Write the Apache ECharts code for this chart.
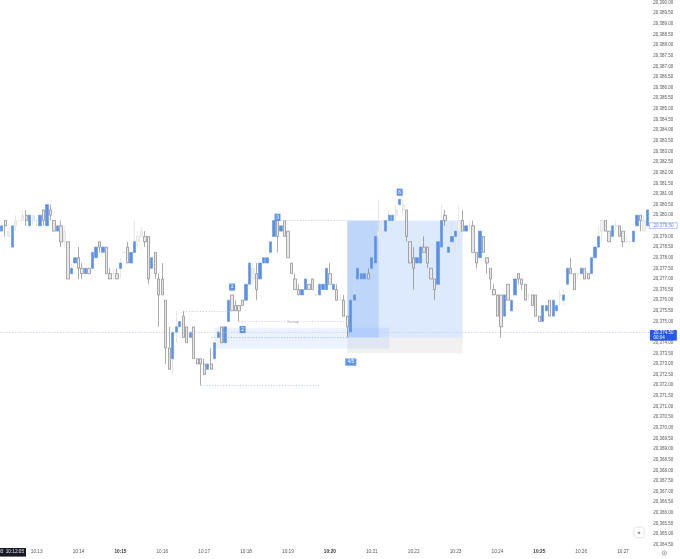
<!DOCTYPE html>
<html>
<head>
<meta charset="utf-8">
<style>html,body{margin:0;padding:0;background:#fff}#c{width:680px;height:559px}</style>
<script src="https://cdn.jsdelivr.net/npm/echarts@6/dist/echarts.min.js"></script>
</head>
<body>
<div id="c"></div>
<script>
const base = 20000;
const opens = [
379.25,379.75,379.25,378.5,379.75,379.75,379.75,380,379.5,380,
379.75,379.5,380.25,379.5,380.25,379.75,379.25,379.5,379.25,378.75,
377.25,377.75,378,377.5,377.25,377.5,377.5,378,378.75,378.25,
378.5,377.25,377.25,377.25,377.5,378.25,378.5,377.75,378.25,378.75,
379,379,379,377.5,378.25,377,377,376,373.75,373.25,
374.5,374.75,375.25,374.75,374.25,374.75,373.25,373.25,373,372.75,
373,373.25,374.25,374.75,374,375,376.25,375.75,375.75,376,
376,376.75,377.5,377.25,377,377.75,377.75,378.25,379,379.75,
379.25,379.75,379.25,377.75,377,376.5,376.25,376.5,376.75,377,
376.25,376.25,376.5,376.5,377.25,376.5,376.5,376,376,375.25,
374.5,376,377,377,377,377.25,377.5,377.75,379,379.25,
379.25,379.75,379.75,380,380.5,380.5,380.25,378.75,378,377.75,
377.75,378.5,378.5,377.5,377,376.75,378.5,380,378.25,378.75,
379,379.75,379.75,379.25,379.5,379.5,378.25,378,379,378,
377.5,376.5,376.25,376.25,375.25,376.75,375.5,376.25,377.25,377,
376.75,376.25,376.25,376.25,375.25,375,375.5,376,375.25,375.5,
376.25,376,376.75,377.5,377.25,377.25,377.25,377.5,377.25,377.25,
378,378.5,379.75,379.75,379.25,379,379.5,379.5,379.25,378.75,
378.75,378.75,379.5,380,379.75,379.5];
const closes = [
379.5,379.5,379,379.5,379.5,379.75,380,379.75,380,379.75,
379.75,380,379.75,380.5,380,379.25,379.5,378.75,378.75,377,
377.5,378,377.5,377.25,377.5,377.25,378.25,378.5,378.5,378.5,
377.25,377,377.25,377,377.75,378.25,377.75,378.25,378.75,379,
379.25,378.75,377,378,377.25,376.25,376.25,373.75,372.75,374.5,
374.75,375,374.25,374,374.5,373.25,373,373,372.5,373,
372.75,374,374.5,374,374.75,376,375.5,375.5,375.5,375.75,
376.75,377.75,377,376.5,377.75,378,378,378.75,379.75,379,
379.5,379,378,377.25,376.5,376.25,376.5,377,376.5,376.5,
376.25,376.75,376.75,377.5,376.75,376.75,376,376,375.25,374.75,
376,376.25,377.5,377.25,377.25,377,378,379,379.25,379.75,
379.75,380,380,380.25,380.75,380.25,379,377.75,377.5,378,
378.5,378.25,377.75,377,376.5,378.75,379.75,379.75,378.5,379,
379.25,379.25,379.25,379.5,379.5,378.25,377.75,379.25,378.25,377.75,
377,376.25,375.25,374.75,376.25,376,376,377,377,376.75,
376,376.25,375.75,375.25,375,375.75,375.75,375.25,376,375.75,
376.25,376.25,377.5,377.25,376.5,377.25,377.5,377,377,378,
378.5,379,379.25,379.25,378.75,379.5,379.5,379,378.75,378.75,
378.75,379.25,380,379.75,379.25,380.25];
const lows = [
379.25,379,379,378.5,379.25,379.75,379.75,379.5,379.5,379.5,
379.5,379.5,379.5,379.5,379.75,379.25,379.25,378.5,378.5,377,
377.25,377.75,377,377,377.25,377.25,377.5,378,378.25,378.25,
377.25,377,377,377,377,378.25,377.75,377.75,378.25,378.5,
379,378.5,376.75,377.5,377,374.75,376.25,373,372.75,372.5,
374,374.75,374.25,374,374.25,373.25,373,372,372.5,372.75,
372.75,373.25,374.25,374,374,375,375.5,375.5,375,375.75,
376,376.75,376.75,376,377,377.75,377.75,378.25,379,378.25,
379.25,379,378,377.25,376.5,376.25,376.25,376.5,376.5,376.5,
376.25,376.25,376.5,376.5,376.75,376.5,376,376,375.25,374.25,
374.5,376,377,377,377,377,377.5,377.75,378.75,379,
379.25,379.75,379.75,379.75,380.5,380,378.75,377.75,376.5,377.75,
377.75,378.25,377.5,377,376,376.75,378.5,379.5,378.25,378.75,
378.25,378.5,379.25,379.25,379.25,378.25,377.5,378,378.25,377.25,
376.5,376.25,375.25,374.25,375.25,376,375.5,376.25,376.75,376.5,
376,376,375.75,375.25,375,375,375.5,375.25,375.25,375.5,
375.75,375.75,376.75,377.25,376.5,377,377.25,377,377,377.25,
378,378.5,378.75,379.25,378.75,379,379.25,379,378.5,378.75,
378.75,378.75,379.5,379.25,379.25,379.5];
const highs = [
379.5,379.75,379.25,379.5,380,379.75,380.25,380.25,380,380,
379.75,380,380.25,380.5,380.5,379.75,379.5,379.75,379.5,378.75,
377.75,378,378.5,377.75,377.5,377.5,378.25,378.5,378.75,378.5,
378.5,377.5,377.5,377.5,378,378.25,378.75,378.25,379.75,379.25,
379.5,379.25,379,378,378.25,377.25,377.75,376,374.75,374.5,
375.5,375,375.5,374.75,374.5,374.75,373.25,373.25,373.25,373,
373.75,374,374.5,374.75,374.75,376,376.25,376,375.75,376,
376.75,377.75,377.75,377.75,377.75,378,378,378.75,379.75,379.75,
379.5,379.75,379.25,377.75,377.25,376.75,376.5,377,376.75,377,
376.25,376.75,376.75,377.5,377.75,376.75,376.75,376.25,376.25,375.25,
376,376.75,377.5,377.25,377.25,377.5,378,379,380.75,379.75,
379.75,380.25,380,380.5,380.75,380.75,380.25,378.75,378.5,378,
378.5,379,378.5,377.5,377,378.75,380.5,380.25,378.5,379.75,
379.25,380.5,380.25,379.5,379.75,379.75,378.25,379.25,379,378,
377.5,376.75,376.25,376.25,376.25,376.75,376,377,377.25,377,
376.75,376.25,376.25,376.25,375.25,375.75,375.75,376,376,375.75,
376.5,376.5,377.5,378,377.25,377.25,377.5,377.5,377.25,378,
378.5,379.5,379.75,379.75,379.25,379.5,379.75,379.5,379.25,379,
378.75,379.25,380,380,380,380.25];
// low-volume candles drawn faintly
const faint = [2,4,5,6,9,10,18,32,35,39,40,72,90,97,108,109,113,115,131,134,151,160,165,172,176,179,180,184];

const firstSecond = 10*3600 + 12*60 + 10;   // first bar 10:12:10, bars of 5 s
const barSeconds = 5;
const hiddenTicks = [20374.5, 20379.5];
const lastPrice = 20374.5, lastCountdown = '00:04', markPrice = 20379.5;

// annotation values: [firstBar, lastBar, price(s)]
const bigBox = [99,132,20379.75,20374.25];
const firstLeg = [99,108,20379.75,20374.25];
const greyBox = [99,132,20374.25,20373.5];
const zone = [61,111,20374.7,20373.72];
const dotted = [
  [52,65,20375.5,'#bcc4d6'],
  [79,99,20379.75,'#bcc4d6'],
  [57,91,20372,'#a3bbef'],
  [60,99,20374.25,'#8fb0f0'],
];
const sweep = [68,99,20375,'Sweep'];
const badges = [['1',66,20376.62,6],['2',69,20374.62,6],['3',79,20379.9,6],['4/5',100,20373.09,11],['6',114,20381.08,6]];

const pad = n => String(n).padStart(2,'0');
const cats = opens.map((_,i)=>{
  const s = firstSecond + i*barSeconds;
  return pad(Math.floor(s/3600))+':'+pad(Math.floor(s/60)%60)+':'+pad(s%60);
});
const isFaint = new Set(faint);
const abs = v => +(base + v).toFixed(2);
const blank = ['-','-','-','-'];
const mainData = [], lightData = [];
opens.forEach((o,i)=>{
  const c = closes[i], l = lows[i], h = highs[i];
  if (isFaint.has(i)) { mainData.push(blank); lightData.push([abs(o),abs(c),abs(l),abs(h)]); return; }
  if (c >= o) { // up bar: the body is blue, its wick is pale
    mainData.push([abs(o),abs(c),abs(o),abs(c)]);
    if (l < o || h > c) lightData.push([abs(o),abs(o),abs(l),abs(h)]); else lightData.push(blank);
  } else {
    mainData.push([abs(o),abs(c),abs(l),abs(h)]);
    lightData.push(blank);
  }
});
const fmt = v => v.toLocaleString('en-US',{minimumFractionDigits:2,maximumFractionDigits:2});
const rectArea = (b,color)=>[{coord:[b[0],b[2]],itemStyle:{color}},{coord:[b[1],b[3]]}];
const FONT = '"Liberation Sans", Arial, sans-serif';

const chart = echarts.init(document.getElementById('c'), null, {renderer:'canvas'});
chart.setOption({
  animation:false,
  backgroundColor:'#fff',
  grid:{left:-0.75, top:2.6, width:650, height:542.1, containLabel:false},
  xAxis:{
    type:'category', data:cats, boundaryGap:true,
    axisLine:{show:false}, axisTick:{show:false}, splitLine:{show:false},
    axisLabel:{
      margin:4.5, fontSize:4.7, color:'#555', fontFamily:FONT, hideOverlap:false,
      interval:(i,v)=>v.endsWith(':00'),
      formatter:v=>{
        const t=v.slice(0,5);
        return (+v.slice(3,5))%5===0 ? '{b|'+t+'}' : t;
      },
      rich:{b:{fontWeight:'bold',fontSize:4.7,color:'#333',fontFamily:FONT}}
    }
  },
  yAxis:{
    type:'value', position:'right', min:20364.5, max:20390, interval:0.5, scale:true,
    axisLine:{show:false}, axisTick:{show:false}, splitLine:{show:false},
    axisLabel:{margin:4, fontSize:4.5, color:'#555', fontFamily:FONT,
      formatter:v=>hiddenTicks.includes(v)?'':fmt(v)}
  },
  series:[
    {
      name:'light', type:'candlestick', data:lightData, barWidth:2.8, z:2, clip:false,
      itemStyle:{color:'#f0f0f0',color0:'#f0f0f0',borderColor:'#dedede',borderColor0:'#dedede',borderWidth:0.7},
      markArea:{silent:true, data:[
        rectArea(bigBox,'rgba(66,133,244,0.18)'),
        rectArea(firstLeg,'rgba(66,133,244,0.19)'),
        rectArea(greyBox,'rgba(125,125,135,0.11)'),
        rectArea(zone,'rgba(66,133,244,0.10)')
      ]},
      markLine:{silent:true, symbol:'none', animation:false, precision:2, data:[
        {yAxis:lastPrice, lineStyle:{color:'#b4c8f4',type:[1.5,1.5],width:0.7},
          label:{show:true,position:'end',distance:0.75,formatter:fmt(lastPrice)+'\n'+lastCountdown,
            backgroundColor:'#2458e6',color:'#fff',fontSize:4.5,lineHeight:4.5,fontFamily:FONT,padding:[0.8,3.4,0.8,3.4],offset:[0,3.2],align:'left'}},
        {yAxis:markPrice, lineStyle:{color:'transparent',width:0},
          label:{show:true,position:'end',distance:0.75,formatter:fmt(markPrice),
            backgroundColor:'#fff',borderColor:'#7fa3ee',borderWidth:0.6,color:'#5b86e0',fontSize:4.5,lineHeight:4.5,fontFamily:FONT,padding:[0.4,3.4,0.4,3.4],align:'left'}},
        ...dotted.map(d=>[
          {coord:[d[0],d[2]],lineStyle:{color:d[3],type:[1.2,1.6],width:0.8},label:{show:false}},
          {coord:[d[1],d[2]]}
        ]),
        [
          {coord:[sweep[0],sweep[2]],lineStyle:{color:'#c8c8c8',type:[1.2,1.6],width:0.8},
           label:{show:true,position:'middle',formatter:sweep[3],fontSize:4,color:'#a8a8a8',fontFamily:FONT,backgroundColor:'#fff',padding:[0,2],distance:0,verticalAlign:'middle'}},
          {coord:[sweep[1],sweep[2]]}
        ]
      ]}
    },
    {
      name:'bars', type:'candlestick', data:mainData, barWidth:2.8, z:3, clip:false,
      itemStyle:{color:'#5b90e8',color0:'#e8e8e8',borderColor:'#5b90e8',borderColor0:'#747474',borderWidth:0.6},
      markPoint:{silent:true, animation:false, data:badges.map(b=>({
        coord:[b[1],b[2]], symbol:'rect', symbolSize:[b[3],7.2],
        itemStyle:{color:'#6096ea'},
        label:{show:true,position:'inside',formatter:b[0],color:'#fff',fontSize:4.8,fontFamily:FONT}
      }))}
    }
  ],
  graphic:[
    {type:'rect',silent:true,shape:{x:0,y:548,width:26,height:8.6},style:{fill:'#171a24'}},
    {type:'text',silent:true,x:24,y:549.7,style:{text:'03  10:12:05',fill:'#e8e8e8',fontSize:4.7,fontFamily:FONT,align:'right'}},
    {type:'rect',silent:true,shape:{x:634.5,y:528,width:9,height:9,r:1.5},style:{fill:'#fff',shadowBlur:3,shadowColor:'rgba(0,0,0,0.25)'}},
    {type:'text',silent:true,x:639,y:529.6,style:{text:'»',fill:'#444',fontSize:6,fontFamily:FONT,align:'center'}},
    {type:'circle',silent:true,shape:{cx:664.3,cy:553,r:2.2},style:{fill:'none',stroke:'#777',lineWidth:0.6}},
    {type:'circle',silent:true,shape:{cx:664.3,cy:553,r:0.7},style:{fill:'#777'}}
  ]
});
</script>
</body>
</html>
